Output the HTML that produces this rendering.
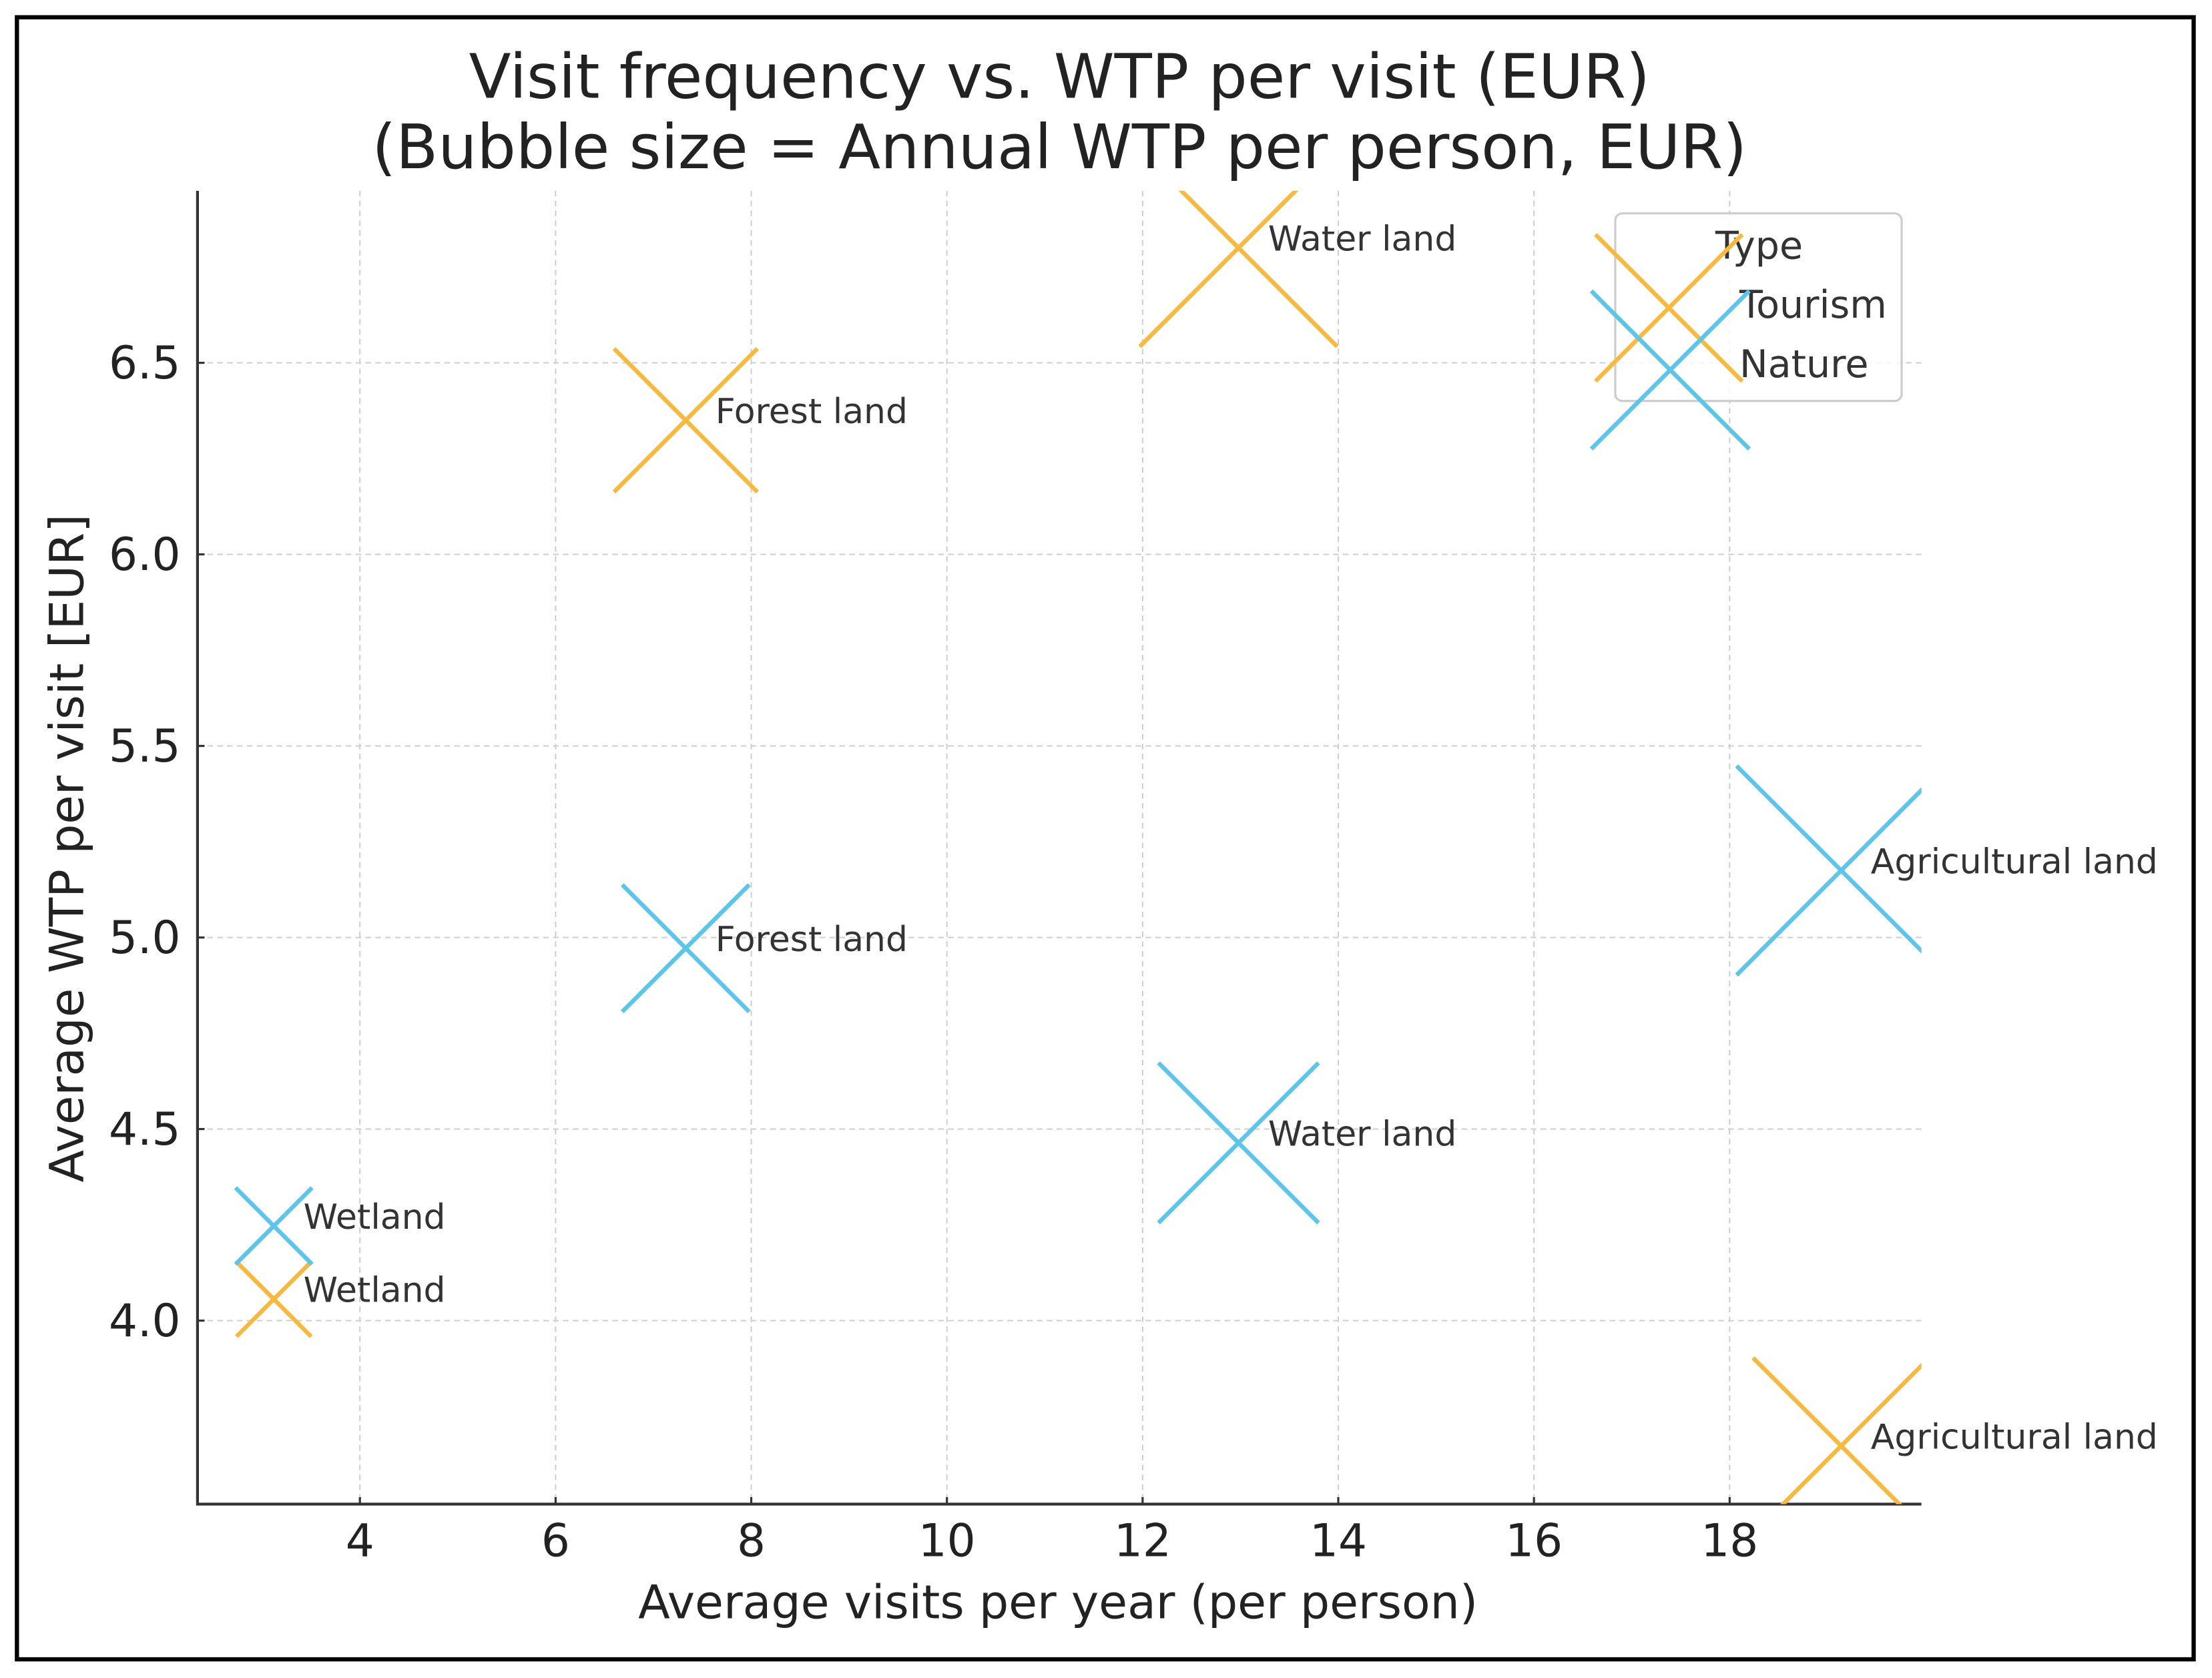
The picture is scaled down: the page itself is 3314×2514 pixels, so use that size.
<!DOCTYPE html>
<html><head><meta charset="utf-8"><style>
html,body{margin:0;padding:0;background:#fff;}
svg{display:block;font-family:"DejaVu Sans","Liberation Sans",sans-serif;}
</style></head><body>
<svg id="chart" width="3314" height="2514" viewBox="0 0 1568 1189" xmlns="http://www.w3.org/2000/svg">
<rect x="12" y="12" width="1543" height="1164" fill="#fff" stroke="#000" stroke-width="3"/>
<text x="751" y="69" text-anchor="middle" font-size="43.5" fill="#222">Visit frequency vs. WTP per visit (EUR)</text>
<text x="751" y="119" text-anchor="middle" font-size="43.5" fill="#222">(Bubble size = Annual WTP per person, EUR)</text>
<g id="grid"></g>
<g id="axes"></g>
<g id="marks"></g>
<text x="750" y="1147" text-anchor="middle" font-size="33" fill="#222">Average visits per year (per person)</text>
<text transform="translate(59,601) rotate(-90)" text-anchor="middle" font-size="33.5" fill="#222">Average WTP per visit [EUR]</text>
<g id="legend">
<rect x="1145" y="151" width="203" height="133" rx="5" fill="#fff" fill-opacity="0.8" stroke="#ccc" stroke-width="1.5"/>
<text x="1247" y="183" text-anchor="middle" font-size="27" fill="#333">Type</text>
<text x="1233" y="225" font-size="27" fill="#333">Tourism</text>
<text x="1233" y="267" font-size="27" fill="#333">Nature</text>
</g>
</svg>
<script>
const categories = ["Water land","Forest land","Wetland","Agricultural land"];
const tourismVisits = [12.98, 7.33, 3.12, 19.14];
const tourismWTP = [6.80, 6.35, 4.056, 3.673];
const natureVisits = [12.98, 7.33, 3.12, 19.14];
const natureWTP = [4.464, 4.972, 4.247, 5.175];
const xTicks = [4,6,8,10,12,14,16,18];
const yTicks = [4.0,4.5,5.0,5.5,6.0,6.5];

const NS="http://www.w3.org/2000/svg";
const L=140,R=1362,T=135,B=1066;
const xMin=2.34,xMax=19.96,yMin=3.521,yMax=6.949;
const xs=v=>L+(v-xMin)/(xMax-xMin)*(R-L);
const ys=v=>B-(v-yMin)/(yMax-yMin)*(B-T);
function mk(tag,attrs,parent){const e=document.createElementNS(NS,tag);for(const k in attrs)e.setAttribute(k,attrs[k]);parent.appendChild(e);return e;}
const grid=document.getElementById('grid'),axes=document.getElementById('axes'),marks=document.getElementById('marks');
xTicks.forEach(t=>{
  const g=mk('line',{x1:xs(t),x2:xs(t),y1:T,y2:B,stroke:'#d0d0d0','stroke-width':1,'stroke-dasharray':'4,3'},grid);
  
  
  const tk=mk('line',{x1:xs(t),x2:xs(t),y1:B,y2:B-5,stroke:'#333','stroke-width':1.5},axes);
  
  
  const tx=mk('text',{x:xs(t),y:1103,'text-anchor':'middle','font-size':32,fill:'#222'},axes);
  tx.textContent=t;
  
  
});
yTicks.forEach(t=>{
  const g=mk('line',{x1:L,x2:R,y1:ys(t),y2:ys(t),stroke:'#d0d0d0','stroke-width':1,'stroke-dasharray':'4,3'},grid);
  
  
  const tk=mk('line',{x1:L,x2:L+5,y1:ys(t),y2:ys(t),stroke:'#333','stroke-width':1.5},axes);
  
  
  const tx=mk('text',{x:128,y:ys(t)+11,'text-anchor':'end','font-size':32,fill:'#222'},axes);
  tx.textContent=t.toFixed(1);
  
  
});
const sp=mk('path',{d:`M${L},${T}V${B}H${R}`,fill:'none',stroke:'#333','stroke-width':2},axes);



const clip=mk('clipPath',{id:'pc'},document.getElementById('chart'));
mk('rect',{x:L,y:T,width:R-L,height:B-T},clip);
function drawX(cx,cy,h,color,parent,clipIt){
  const g=mk('g',{},parent);
  if(clipIt)g.setAttribute('clip-path','url(#pc)');
  mk('line',{x1:cx-h,y1:cy-h,x2:cx+h,y2:cy+h,stroke:color,'stroke-width':3},g);
  mk('line',{x1:cx-h,y1:cy+h,x2:cx+h,y2:cy-h,stroke:color,'stroke-width':3},g);
  return g;
}
const K=7.45;
function series(vx,vy,color,name){
  vx.forEach((v,i)=>{
    const cx=xs(v),cy=ys(vy[i]);
    const h=K*Math.sqrt(v*vy[i]);
    const g=drawX(cx,cy,h,color,marks,true);
    
    
    const t=mk('text',{x:cx+21,y:cy+2,'font-size':24.6,fill:'#333'},marks);
    t.textContent=categories[i];
    
    
  });
}
const ORANGE='#F9B93F',BLUE='#5BC5EA';
series(tourismVisits,tourismWTP,ORANGE,'tourism');
series(natureVisits,natureWTP,BLUE,'nature');
const leg=document.getElementById('legend');
const l1=drawX(1183,218,52,ORANGE,leg,false);


const l2=drawX(1184,262,56,BLUE,leg,false);


</script>
</body></html>
